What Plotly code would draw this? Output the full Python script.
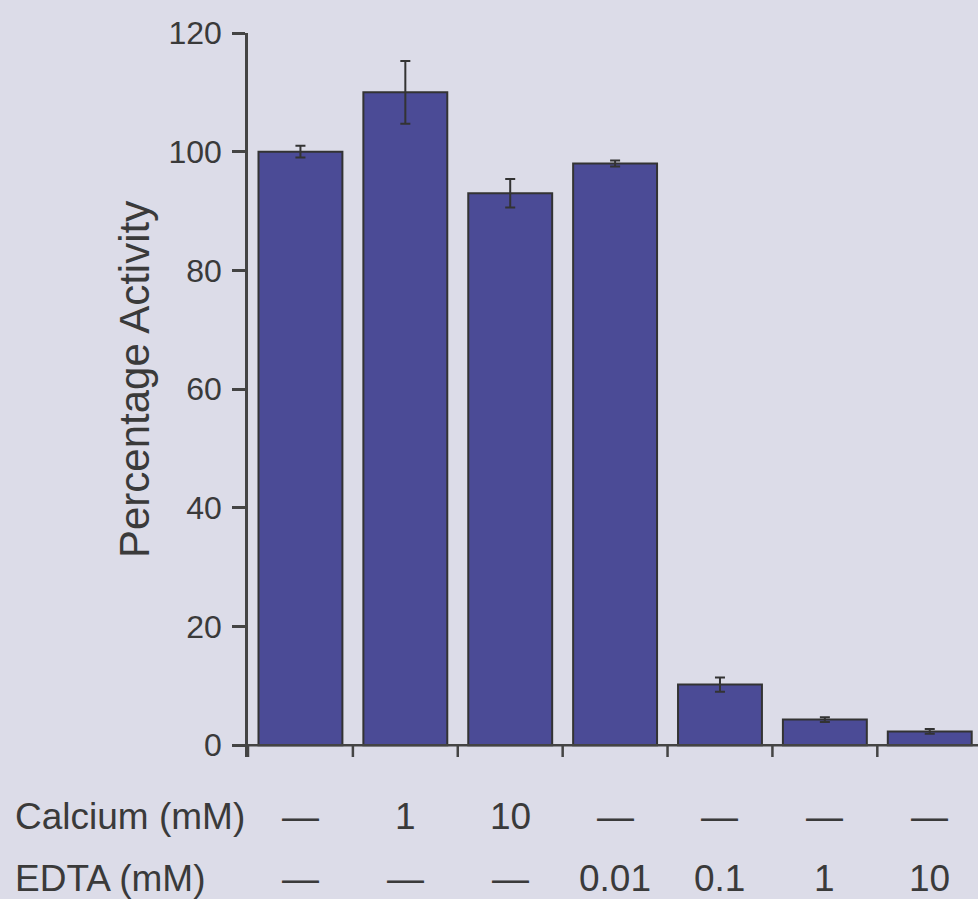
import plotly.graph_objects as go

# Enzyme activity under calcium / EDTA treatments
conditions = ["c1", "c2", "c3", "c4", "c5", "c6", "c7"]
activity = [100.0, 110.0, 93.0, 98.0, 10.2, 4.3, 2.3]
activity_err = [1.0, 5.3, 2.4, 0.5, 1.2, 0.4, 0.4]
calcium_labels = ["—", "1", "10", "—", "—", "—", "—"]
edta_labels = ["—", "—", "—", "0.01", "0.1", "1", "10"]
y_ticks = [0, 20, 40, 60, 80, 100, 120]

BG = "#dcdce8"
BAR = "#4b4b96"
INK = "#3a3a3a"
FONT = "Liberation Sans, Arial, sans-serif"

W, H = 978, 899
L, R, T, B = 248, 0, 33, 142
PW, PH = W - L - R, H - T - B

xpos = list(range(len(conditions)))

fig = go.Figure()
fig.add_trace(go.Bar(
    x=xpos,
    y=activity,
    width=0.8,
    marker=dict(color=BAR, line=dict(color="#333333", width=2)),
    error_y=dict(type="data", array=activity_err, visible=True,
                 color="#333333", thickness=2, width=5),
    hoverinfo="skip",
))

shapes = []
# x axis baseline at y = 0, slightly overhanging the y axis
shapes.append(dict(type="line", xref="paper", yref="y",
                   x0=-11 / PW, x1=1, y0=0, y1=0,
                   line=dict(color="#444444", width=2.5)))
# category boundary ticks below the baseline
for i in range(len(conditions)):
    shapes.append(dict(type="line", xref="x", yref="y",
                       x0=i - 0.5, x1=i - 0.5, y0=0, y1=-2,
                       line=dict(color="#444444", width=2.5)))

annotations = []
row_font = dict(family=FONT, size=37, color=INK)
row1_y = (757 - 817) / PH
row2_y = (757 - 878) / PH
for i in xpos:
    annotations.append(dict(x=i, y=row1_y, xref="x", yref="paper", text=calcium_labels[i],
                            showarrow=False, xanchor="center", yanchor="middle", font=row_font))
    annotations.append(dict(x=i, y=row2_y, xref="x", yref="paper", text=edta_labels[i],
                            showarrow=False, xanchor="center", yanchor="middle", font=row_font))
head_x = (13 - L) / PW
annotations.append(dict(x=head_x, y=row1_y, xref="paper", yref="paper", text="Calcium (mM)",
                        showarrow=False, xanchor="left", yanchor="middle", font=row_font))
annotations.append(dict(x=head_x, y=row2_y, xref="paper", yref="paper", text="EDTA (mM)",
                        showarrow=False, xanchor="left", yanchor="middle", font=row_font))
# y axis title
annotations.append(dict(x=(134 - L) / PW, y=(757 - 380) / PH,
                        xref="paper", yref="paper", text="Percentage Activity",
                        textangle=-90, showarrow=False, xanchor="center", yanchor="middle",
                        font=dict(family=FONT, size=42, color=INK)))

fig.update_layout(
    width=W, height=H,
    margin=dict(l=L, r=R, t=T, b=B, pad=0),
    paper_bgcolor=BG, plot_bgcolor=BG,
    showlegend=False,
    bargap=0.2,
    shapes=shapes,
    annotations=annotations,
    xaxis=dict(range=[-0.5, 6.46], showgrid=False, zeroline=False, showline=False,
               showticklabels=False, ticks="", fixedrange=True),
    yaxis=dict(range=[-2, 120], tickvals=y_ticks, ticktext=[str(v) for v in y_ticks],
               showgrid=False, zeroline=False, showline=True, linecolor="#444444",
               linewidth=2.5, ticks="outside", ticklen=13, tickwidth=2.5,
               tickcolor="#444444", ticklabelstandoff=4,
               tickfont=dict(family=FONT, size=32, color=INK), fixedrange=True),
)

fig.write_html("out.html")
